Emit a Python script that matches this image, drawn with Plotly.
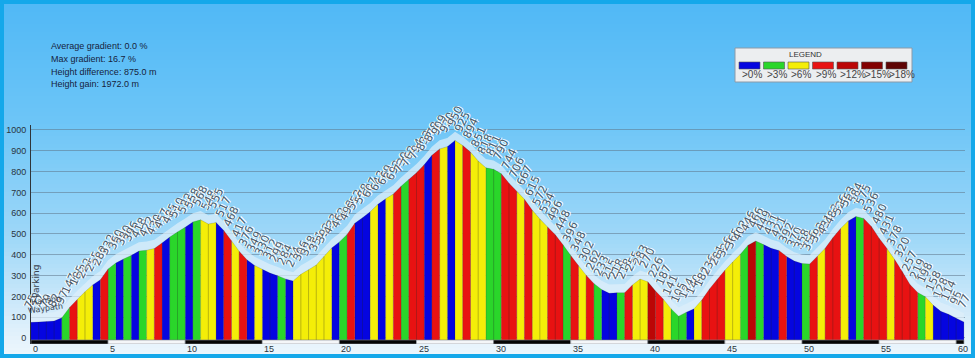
import plotly.graph_objects as go

W, H = 975, 358

# Track profile: distance along the route and elevation at each point
dist_km = [0.0, 0.5, 1.0, 1.5, 2.0, 2.5, 3.0, 3.5, 4.0, 4.5,
           5.0, 5.5, 6.0, 6.5, 7.0, 7.5, 8.0, 8.5, 9.0, 9.5,
           10.0, 10.5, 11.0, 11.5, 12.0, 12.5, 13.0, 13.5, 14.0, 14.5,
           15.0, 15.5, 16.0, 16.5, 17.0, 17.5, 18.0, 18.5, 19.0, 19.5,
           20.0, 20.5, 21.0, 21.5, 22.0, 22.5, 23.0, 23.5, 24.0, 24.5,
           25.0, 25.5, 26.0, 26.5, 27.0, 27.5, 28.0, 28.5, 29.0, 29.5,
           30.0, 30.5, 31.0, 31.5, 32.0, 32.5, 33.0, 33.5, 34.0, 34.5,
           35.0, 35.5, 36.0, 36.5, 37.0, 37.5, 38.0, 38.5, 39.0, 39.5,
           40.0, 40.5, 41.0, 41.5, 42.0, 42.5, 43.0, 43.5, 44.0, 44.5,
           45.0, 45.5, 46.0, 46.5, 47.0, 47.5, 48.0, 48.5, 49.0, 49.5,
           50.0, 50.5, 51.0, 51.5, 52.0, 52.5, 53.0, 53.5, 54.0, 54.5,
           55.0, 55.5, 56.0, 56.5, 57.0, 57.5, 58.0, 58.5, 59.0, 59.5,
           60.0, 60.5]
elev_m = [75, 77, 79, 82, 97, 147, 185, 222, 255, 280,
          332, 360, 380, 396, 418, 422, 430, 457, 485, 510,
          532, 558, 568, 548, 555, 517, 468, 417, 376, 349,
          330, 312, 299, 284, 274, 306, 328, 351, 392, 433,
          462, 498, 552, 578, 607, 643, 669, 692, 730, 762,
          794, 833, 878, 909, 920, 950, 925, 894, 851, 818,
          811, 790, 744, 706, 667, 615, 572, 534, 496, 448,
          396, 348, 302, 262, 233, 215, 218, 218, 255, 283,
          270, 226, 187, 141, 105, 124, 140, 182, 236, 281,
          326, 365, 402, 446, 466, 449, 431, 421, 392, 370,
          358, 356, 393, 431, 482, 526, 563, 584, 575, 536,
          480, 431, 378, 320, 257, 219, 198, 158, 128, 114,
          95, 77]
# Gradient class of each segment between consecutive points
grade_class = ("BBBBGRYYBR" "GBGBGYRBGG" "BGYYBRYRBY" "BBGBYYYYYB"
               "GRBBYBYRGR" "RBRYBYRYYG" "GRRYRYYRRG" "RYRGBBGRYY"
               "DRYGGBYRRR" "YYGDGBBRBB" "GRYRRYBGRR" "RYRRRGYBBB" "B")

class_colors = {"B": "#0505e0", "G": "#2ad62a", "Y": "#f4ee08", "R": "#e81212",
                "D": "#bb0606", "M": "#820000", "K": "#5e0404"}
legend_codes = ["B", "G", "Y", "R", "D", "M", "K"]
legend_labels = [">0%", ">3%", ">6%", ">9%", ">12%", ">15%", ">18%"]

stat_lines = ["Average gradient: 0.0 %", "Max gradient: 16.7 %",
              "Height difference: 875.0 m", "Height gain: 1972.0 m"]
waypoints = [("Parking", 0.36, 272, -90, 9), ("Hanson", 0.95, 178, -8, 8),
             ("Waypath", 0.95, 140, -8, 8)]

y_ticks = [0, 100, 200, 300, 400, 500, 600, 700, 800, 900, 1000]
x_ticks = [0, 5, 10, 15, 20, 25, 30, 35, 40, 45, 50, 55, 60]

BASE = -10          # bottom of the coloured profile
BAR_LO = -29        # bottom of the distance scale bar
X_END = 60.57
Y_TOP = 1024


def fx(px):
    return px / W


def fy(py):
    return 1 - py / H


fig = go.Figure()

# light halo band sitting on top of the profile
fig.add_trace(go.Scatter(x=dist_km, y=elev_m, mode="lines", line=dict(width=0),
                         hoverinfo="skip", showlegend=False))
fig.add_trace(go.Scatter(x=dist_km, y=[e + 42 for e in elev_m], mode="lines",
                         line=dict(width=0, color="rgba(0,0,0,0)"), fill="tonexty",
                         fillcolor="rgba(222,238,249,0.72)", hoverinfo="skip",
                         showlegend=False))

# coloured profile segments, one polygon trace per gradient class
for code, color in class_colors.items():
    xs, ys = [], []
    for i, c in enumerate(grade_class):
        if c != code:
            continue
        x0, x1 = dist_km[i], dist_km[i + 1]
        e0, e1 = elev_m[i], elev_m[i + 1]
        xs += [x0, x0, x1, x1, x0, None]
        ys += [BASE, e0, e1, BASE, BASE, None]
    if not xs:
        continue
    fig.add_trace(go.Scatter(x=xs, y=ys, mode="lines", fill="toself",
                             fillcolor=color,
                             line=dict(width=0.5, color="rgba(40,40,40,0.3)"),
                             hoverinfo="skip", showlegend=False))

shapes = []

# sky gradient background
stops = [(0, (80, 184, 246)), (120, (108, 197, 247)), (240, (160, 216, 248)),
         (335, (226, 241, 251)), (358, (238, 247, 253))]


def sky(py):
    for (y0, c0), (y1, c1) in zip(stops[:-1], stops[1:]):
        if y0 <= py <= y1:
            t = (py - y0) / (y1 - y0)
            return "rgb(%d,%d,%d)" % tuple(round(a + (b - a) * t) for a, b in zip(c0, c1))
    return "rgb(%d,%d,%d)" % stops[-1][1]


step = 4
for py in range(0, H, step):
    shapes.append(dict(type="rect", xref="paper", yref="paper", layer="below",
                       x0=0, x1=1, y0=fy(py + step + 0.5), y1=fy(py),
                       fillcolor=sky(py + step / 2), line=dict(width=0)))

# distance scale bar under the profile
for k in range(13):
    x0 = k * 5
    x1 = min(x0 + 5, dist_km[-1])
    shapes.append(dict(type="rect", xref="x", yref="y", x0=x0, x1=x1, y0=BAR_LO, y1=BASE,
                       fillcolor="#050505" if k % 2 == 0 else "#f4f6f8",
                       line=dict(width=0.6, color="#8a8f96")))

# legend box and swatches
shapes.append(dict(type="rect", xref="paper", yref="paper", x0=fx(735), x1=fx(912),
                   y0=fy(82), y1=fy(48), fillcolor="#eceef0",
                   line=dict(width=1, color="#8c9aa8")))
annotations = [dict(text="LEGEND", xref="paper", yref="paper", x=fx(824), y=fy(54),
                    yanchor="middle", showarrow=False,
                    font=dict(size=8, color="#333", family="Liberation Sans"))]
for j, (code, lab) in enumerate(zip(legend_codes, legend_labels)):
    sx = 739 + j * 24.5
    shapes.append(dict(type="rect", xref="paper", yref="paper", x0=fx(sx), x1=fx(sx + 21),
                       y0=fy(69), y1=fy(62), fillcolor=class_colors[code],
                       line=dict(width=0.6, color="#555")))
    annotations.append(dict(text=lab, xref="paper", yref="paper", x=fx(sx + 1), y=fy(74.5),
                            xanchor="left", yanchor="middle", showarrow=False,
                            font=dict(size=10, color="#444", family="Liberation Sans")))

# frame
shapes.append(dict(type="rect", xref="paper", yref="paper", x0=fx(2), x1=fx(973),
                   y0=fy(356), y1=fy(2), line=dict(width=4, color="#14a8ea"),
                   fillcolor="rgba(0,0,0,0)"))

# route statistics
for n, line in enumerate(stat_lines):
    annotations.append(dict(text=line, xref="paper", yref="paper", x=fx(49),
                            y=fy(46 + 12.8 * n), xanchor="left", yanchor="middle",
                            showarrow=False,
                            font=dict(size=9, color="#16223c", family="Liberation Sans")))

# distance labels, set just right of each kilometre mark
for t in x_ticks:
    annotations.append(dict(text=str(t), x=t, xref="x", y=fy(349), yref="paper",
                            xanchor="left", yanchor="middle", showarrow=False,
                            font=dict(size=9, color="#2a3440", family="Liberation Sans")))

# elevation labels along the profile
label_font = dict(size=11, color="rgba(70,84,98,0.95)", family="DejaVu Sans")
try:
    go.layout.Annotation(font=dict(label_font, shadow="1px 1px 0 #fff, -1px -1px 0 #fff"))
    label_font = dict(label_font, shadow="1px 1px 0 #fff, -1px -1px 0 #fff")
except ValueError:
    pass
for d, e in zip(dist_km, elev_m):
    annotations.append(dict(text=str(e), x=d, y=e, xref="x", yref="y", showarrow=False,
                            textangle=-65, yanchor="bottom", yshift=9, font=label_font))

# waypoint names at the start
for name, d, e, ang, fs in waypoints:
    annotations.append(dict(text=name, x=d, y=e, xref="x", yref="y", showarrow=False,
                            textangle=ang, font=dict(size=fs, color="#3a4450",
                                                     family="DejaVu Sans")))

fig.update_layout(
    width=W, height=H, margin=dict(l=0, r=0, t=0, b=0, pad=0),
    paper_bgcolor="#bfe3fa", plot_bgcolor="rgba(0,0,0,0)",
    showlegend=False, shapes=shapes, annotations=annotations,
    xaxis=dict(domain=[fx(31), fx(965)], range=[0, X_END], showgrid=False,
               zeroline=False, showline=False, showticklabels=False, ticks=""),
    yaxis=dict(domain=[fy(344), fy(125)], range=[BAR_LO, Y_TOP], tickmode="array",
               tickvals=y_ticks, showgrid=True, gridcolor="rgba(95,118,138,0.55)",
               gridwidth=1, zeroline=False, showline=True, linecolor="#2f3438",
               linewidth=1, ticks="", ticklabelstandoff=2,
               tickfont=dict(size=9, color="#2a3440", family="Liberation Sans")),
)

fig.write_html("out.html")
